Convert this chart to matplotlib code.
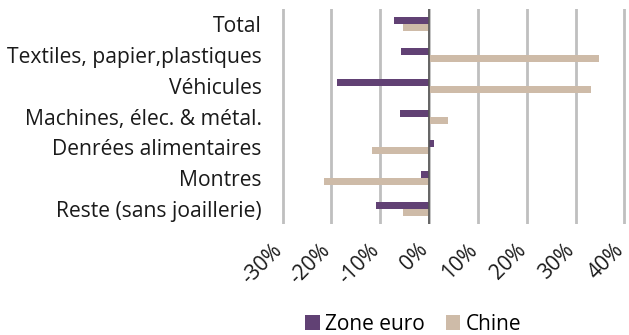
import numpy as np
import matplotlib
matplotlib.use('Agg')
import matplotlib.pyplot as plt
import matplotlib.transforms as mtransforms

plt.rcParams['font.family'] = ['Open Sans', 'DejaVu Sans']

categories = ['Total', 'Textiles, papier,plastiques', 'Véhicules',
              'Machines, élec. & métal.', 'Denrées alimentaires',
              'Montres', 'Reste (sans joaillerie)']
zone_euro = [-7.1, -5.7, -18.9, -5.9, 1.0, -1.6, -10.9]
chine = [-5.3, 34.8, 33.1, 3.9, -11.6, -21.6, -5.3]
ticks = [-30, -20, -10, 0, 10, 20, 30, 40]
tick_labels = ['-30%', '-20%', '-10%', '0%', '10%', '20%', '30%', '40%']

purple = '#614174'
beige = '#CEBBA8'

fig = plt.figure(figsize=(6.29, 3.35), dpi=100)
ax = fig.add_axes([0.447, 0.331, 0.548, 0.642])

y = np.arange(len(categories))
h = 0.23
ax.barh(y - h / 2, zone_euro, height=h, color=purple, label='Zone euro', zorder=3)
ax.barh(y + h / 2, chine, height=h, color=beige, label='Chine', zorder=3)

ax.set_ylim(len(categories) - 0.5, -0.5)
ax.set_xlim(-30.3, 40.3)
ax.set_yticks(y)
ax.set_yticklabels(categories, fontsize=15.2, color='#1a1a1a')
ax.set_xticks(ticks)
ax.set_xticklabels([])

# slanted x labels, placed by hand below the axis
trans = ax.get_xaxis_transform() + mtransforms.ScaledTranslation(
    -3 / 72, -16.5 / 72, fig.dpi_scale_trans)
for t, s in zip(ticks, tick_labels):
    ax.text(t, 0, s, transform=trans, rotation=45, rotation_mode='anchor',
            ha='right', va='center', fontsize=15, color='#1a1a1a')

ax.tick_params(axis='both', length=0)
ax.tick_params(axis='y', pad=14)
ax.grid(axis='x', color='#BFBFBF', linewidth=2, zorder=0)
ax.axvline(0, color='#555555', linewidth=1.2, zorder=4)
for sp in ax.spines.values():
    sp.set_visible(False)

fig.legend(loc='lower center', bbox_to_anchor=(0.657, -0.055), ncol=2, frameon=False,
           fontsize=15, handlelength=0.7, handleheight=0.7, handletextpad=0.25,
           columnspacing=1.0)

fig.savefig('out.png', dpi=100)
